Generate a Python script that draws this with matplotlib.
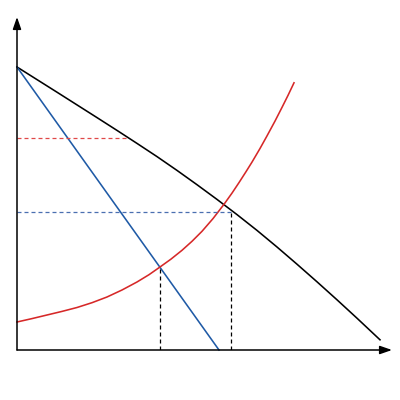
import matplotlib
matplotlib.use("Agg")
import matplotlib.pyplot as plt

# Data (units: tenths of pixel offsets from origin)
black_x = [0, 2, 4, 6, 8, 10, 12, 14, 16, 18, 20, 22, 24, 26, 28, 30, 32, 34, 36.3]
black_y = [28.3, 27.04, 25.78, 24.51, 23.24, 21.96, 20.66, 19.34, 17.96, 16.53,
           15.06, 13.54, 11.96, 10.30, 8.58, 6.82, 5.02, 3.18, 1.02]

blue_x = [0, 20.2]
blue_y = [28.3, 0]

red_x = [0, 1.5, 3.0, 4.5, 6.0, 7.5, 9.0, 10.5, 12.0, 13.2, 14.3, 15.4, 16.5, 17.5,
         18.5, 19.6, 20.7, 21.5, 22.2, 22.9, 23.5, 24.3, 25.0, 25.8, 26.5, 27.1, 27.7]
red_y = [2.8, 3.14, 3.5, 3.86, 4.25, 4.73, 5.3, 6.0, 6.8, 7.53, 8.3, 9.09, 9.97, 10.87,
         11.87, 13.14, 14.57, 15.69, 16.74, 17.83, 18.79, 20.15, 21.41, 22.89, 24.26, 25.46, 26.72]

red_dash_y = 21.2
red_dash_x_end = 11.1
blue_dash_y = 13.8
blue_dash_x_end = 21.4
vline1_x, vline1_top = 14.3, 8.3
vline2_x, vline2_top = 21.4, 13.8

XMAX, YMAX = 37.5, 33.3

fig = plt.figure(figsize=(4, 4), dpi=100)
ax = fig.add_axes([17/400, 50/400, (392-17)/400, (350-17)/400])
ax.set_xlim(0, XMAX)
ax.set_ylim(0, YMAX)
ax.axis("off")

red = "#d62828"
blue = "#1f5aa6"
lw = 1.15

ax.plot(black_x, black_y, color="black", lw=lw, clip_on=False)
ax.plot(blue_x, blue_y, color=blue, lw=lw, clip_on=False)
ax.plot(red_x, red_y, color=red, lw=lw, clip_on=False)

dlw = 0.9
ax.plot([0, red_dash_x_end], [red_dash_y, red_dash_y], color="#e04848", lw=dlw, dashes=(3.2, 2.4))
ax.plot([0, blue_dash_x_end], [blue_dash_y, blue_dash_y], color="#4a6fb0", lw=dlw, dashes=(3.2, 2.4))
ax.plot([vline1_x, vline1_x], [0, vline1_top], color="black", lw=dlw, dashes=(3.2, 2.4))
ax.plot([vline2_x, vline2_x], [0, vline2_top], color="black", lw=dlw, dashes=(3.2, 2.4))

# axes with arrows
arrow = dict(arrowstyle="-|>,head_length=0.72,head_width=0.25", color="black", lw=1.1,
             shrinkA=0, shrinkB=0, mutation_scale=10)
ax.annotate("", xy=(XMAX, 0), xytext=(0, 0), arrowprops=arrow, annotation_clip=False)
ax.annotate("", xy=(0, YMAX), xytext=(0, 0), arrowprops=arrow, annotation_clip=False)

fig.savefig("out.png", dpi=100, facecolor="white")
